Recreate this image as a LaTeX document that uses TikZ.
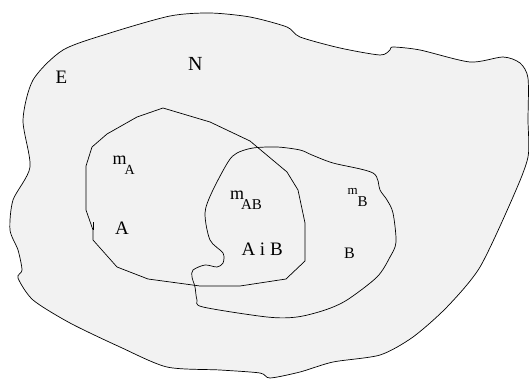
\documentclass[tikz,border=0pt]{standalone}
\usepackage{fontspec}
\setmainfont{Liberation Serif}
\usetikzlibrary{positioning}
\definecolor{regionfill}{RGB}{242,242,242}

\newcommand{\fsz}[1]{\fontsize{#1}{#1}\selectfont}

\begin{document}
\begin{tikzpicture}[
    x=1pt, y=-1pt,
    region/.style={draw=black, line width=0.7pt, fill=regionfill},
    setline/.style={draw=black, line width=0.7pt},
    txt/.style={anchor=base west, inner sep=0pt, outer sep=0pt}
]
\useasboundingbox (0,0) rectangle (529,379);

% Outer region E
\path[region] plot[smooth cycle, tension=0.45] coordinates {
    (63,50) (110,33) (170,16) (210,13) (250,17) (287,27) (300,37)
    (340,48) (380,55) (390,50) (393,47) (420,50) (470,62) (503,57)
    (520,63) (528,78) (528,120) (528,157) (513,197) (480,267)
    (447,307) (413,337) (380,355) (333,362) (300,372) (270,378)
    (260,373) (220,370) (167,367) (120,347) (70,323) (33,300)
    (18,278) (22,270) (18,250) (10,230) (13,200) (30,167)
    (23,120) (33,80)
};

% Set A
\draw[setline] (163,108) -- (137,117) -- (107,134) -- (92,147) -- (86,166)
    -- (86,210) -- (93,230) -- (93,240) -- (117,267) -- (148,279)
    -- (200,286) -- (240,286) -- (286,279) -- (305,261) -- (305,223)
    -- (298,190) -- (287,172) -- (250,141) -- (210,122) -- cycle;
\draw[setline] (93,222) -- (93,230);

% Set B
\draw[setline] plot[smooth cycle, tension=0.5] coordinates {
    (228,162) (237,153) (253,148) (277,147) (300,150) (312,155)
    (333,163) (373,173) (380,190) (387,200) (393,213) (396,242)
    (390,257) (377,277) (347,300) (325,310) (297,317) (267,317)
    (203,307) (197,300) (195,287) (192,277) (193,270) (205,265)
    (217,267) (223,263) (223,253) (210,240) (205,213) (212,192)
};

% Labels
\node[txt] (lblE) at (55.5,84) {\fsz{19}E};
\node[txt] (lblN) at (188,70.7) {\fsz{20}N};
\node[txt] (lblmA) at (112.5,164.3) {\fsz{18}m\kern-2pt\raisebox{-10pt}{\fsz{14}A}};
\node[txt] (lblA) at (115,234) {\fsz{19}A};
\node[txt] (lblmAB) at (230,200) {\fsz{18}m\kern-3pt\raisebox{-9.3pt}{\fsz{15}AB}};
\node[txt] (lblAiB) at (241.5,255.7) {\fsz{19}A i B};
\node[txt] (lblmB) at (347.5,195) {\fsz{13}m\raisebox{-11pt}{\fsz{15}B}};
\node[txt] (lblB) at (344,258) {\fsz{16}B};

\end{tikzpicture}
\end{document}
